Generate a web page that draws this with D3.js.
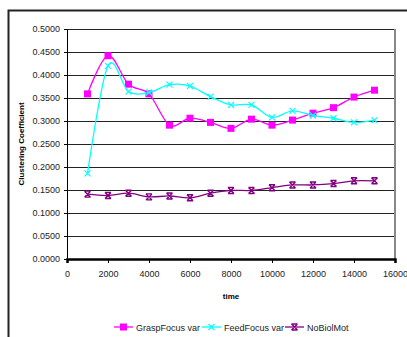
<!DOCTYPE html>
<html>
<head>
<meta charset="utf-8">
<style>
  body { margin: 0; background: #fff; }
  text { font-family: "Liberation Sans", Arial, sans-serif; }
</style>
</head>
<body>
<svg id="chart"></svg>
<script src="https://cdn.jsdelivr.net/npm/d3@7"></script>
<script>
  let width = 407,
      height = 337;

  // data
  let times = [1000, 2000, 3000, 4000, 5000, 6000, 7000, 8000, 9000, 10000, 11000, 12000, 13000, 14000, 15000]
  let graspFocus = [0.359, 0.442, 0.380, 0.359, 0.291, 0.306, 0.297, 0.284, 0.304, 0.291, 0.302, 0.317, 0.329, 0.352, 0.367]
  let feedFocus = [0.186, 0.420, 0.364, 0.362, 0.379, 0.376, 0.353, 0.335, 0.335, 0.308, 0.322, 0.312, 0.306, 0.297, 0.302]
  let noBiolMot = [0.141, 0.138, 0.143, 0.135, 0.137, 0.133, 0.143, 0.149, 0.149, 0.155, 0.161, 0.161, 0.164, 0.170, 0.170]
  let seriesNames = ["GraspFocus var", "FeedFocus var", "NoBiolMot"]
  let seriesColors = ["#ff00ff", "#00ffff", "#800080"]
  let yTicks = [0, 0.05, 0.1, 0.15, 0.2, 0.25, 0.3, 0.35, 0.4, 0.45, 0.5]
  let xTicks = [0, 2000, 4000, 6000, 8000, 10000, 12000, 14000, 16000]

  let svg = d3.select("#chart").attr("width", width).attr("height", height)

  // outer chart frame
  svg.append("rect")
    .attr("x", 8.5).attr("y", 10.5)
    .attr("width", 420).attr("height", 360)
    .attr("fill", "none").attr("stroke", "#222").attr("stroke-width", 2)

  let x = d3.scaleLinear().domain([0, 16000]).range([67, 395])
  let y = d3.scaleLinear().domain([0, 0.5]).range([259, 29])

  // gridlines
  svg.append("g")
    .selectAll("line")
    .data(yTicks.slice(1))
    .enter()
    .append("line")
    .attr("x1", x(0)).attr("x2", x(16000))
    .attr("y1", d => Math.round(y(d)) + 0.5).attr("y2", d => Math.round(y(d)) + 0.5)
    .attr("stroke", "#222").attr("stroke-width", 1)

  // right border of plot area
  svg.append("line")
    .attr("x1", 395).attr("x2", 395).attr("y1", 29).attr("y2", 259)
    .attr("stroke", "#888").attr("stroke-width", 2)

  let yAxis = svg.append("g")
    .attr("transform", `translate(${x(0)},0)`)
    .call(d3.axisLeft(y).tickValues(yTicks).tickFormat(d3.format(".4f")).tickSize(3).tickPadding(4))
  let xAxis = svg.append("g")
    .attr("transform", `translate(0,${y(0)})`)
    .call(d3.axisBottom(x).tickValues(xTicks).tickFormat(d3.format("d")).tickSize(4).tickPadding(8))

  svg.selectAll(".tick text").attr("font-size", 9).attr("font-family", "Liberation Sans, Arial").attr("fill", "#222")
  yAxis.select(".domain").attr("stroke", "#000")
  xAxis.select(".domain").attr("stroke", "#000").attr("stroke-width", 2.5)

  // axis titles
  svg.append("text")
    .attr("transform", `translate(24,${y(0.25)}) rotate(-90)`)
    .attr("text-anchor", "middle")
    .attr("font-size", 8).attr("font-weight", "bold")
    .text("Clustering Coefficient")
  svg.append("text")
    .attr("x", 231).attr("y", 299)
    .attr("text-anchor", "middle")
    .attr("font-size", 8).attr("font-weight", "bold")
    .text("time")

  let line = d3.line()
    .x((d, i) => x(times[i]))
    .y(d => y(d))
    .curve(d3.curveCatmullRom.alpha(0))

  function drawMarker(g, kind, color, cx, cy) {
    if (kind == 0) {
      g.append("rect").attr("x", cx - 3.5).attr("y", cy - 3.5).attr("width", 7).attr("height", 7).attr("fill", color)
    } else if (kind == 1) {
      g.append("path").attr("d", `M${cx - 3},${cy - 3}L${cx + 3},${cy + 3}M${cx - 3},${cy + 3}L${cx + 3},${cy - 3}`)
        .attr("stroke", color).attr("stroke-width", 1.2)
    } else {
      g.append("path").attr("d", `M${cx - 3},${cy - 3}L${cx + 3},${cy + 3}M${cx - 3},${cy + 3}L${cx + 3},${cy - 3}M${cx - 3},${cy - 3}H${cx + 3}M${cx - 3},${cy + 3}H${cx + 3}`)
        .attr("stroke", color).attr("stroke-width", 1.4)
    }
  }

  let allSeries = [graspFocus, feedFocus, noBiolMot]
  allSeries.forEach((vals, k) => {
    let g = svg.append("g")
    g.append("path")
      .datum(vals)
      .attr("d", line)
      .attr("fill", "none")
      .attr("stroke", seriesColors[k])
      .attr("stroke-width", 1.3)
    vals.forEach((v, i) => drawMarker(g, k, seriesColors[k], x(times[i]), y(v)))
  })

  // legend
  let legendX = [114, 202, 285]
  seriesNames.forEach((name, k) => {
    let g = svg.append("g")
    g.append("line")
      .attr("x1", legendX[k]).attr("x2", legendX[k] + 19)
      .attr("y1", 327).attr("y2", 327)
      .attr("stroke", seriesColors[k]).attr("stroke-width", 1.3)
    drawMarker(g, k, seriesColors[k], legendX[k] + 9.5, 327)
    g.append("text")
      .attr("x", legendX[k] + 22).attr("y", 330.5)
      .attr("font-size", 9).attr("fill", "#222")
      .text(name)
  })
</script>
</body>
</html>
